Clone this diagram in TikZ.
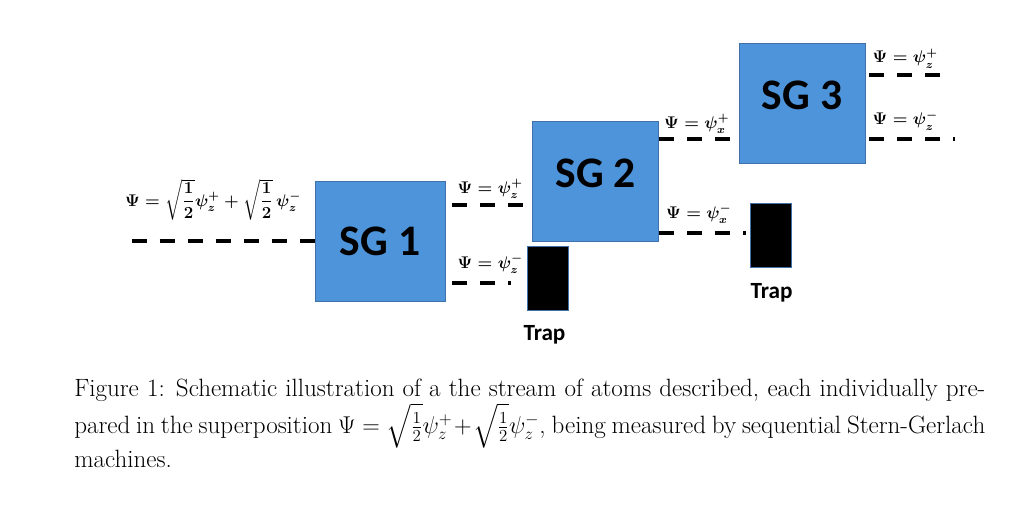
\documentclass[tikz,border=0pt]{standalone}
\usepackage{fontspec}
\usepackage{amsmath}
\newfontfamily\sgfont{Carlito}
\usetikzlibrary{positioning}
\definecolor{sgblue}{RGB}{77,148,219}
\definecolor{sgedge}{RGB}{65,113,170}

\begin{document}
\begin{tikzpicture}[%
    node distance=2cm,                  % Default gap between the magnets
    every node/.style={inner sep=0pt},  % Text sits right on its anchor
    ]
\useasboundingbox (0,0) rectangle (25.6,-12.675);
% -------------------------------------------------
% A few styles
\tikzset{
  magnet/.style={draw=sgedge, fill=sgblue, minimum width=3.15cm, minimum height=3cm,
    font=\sgfont\bfseries\fontsize{31}{36}\selectfont},
  raised/.style={text depth=0.4cm},  % label a bit above the middle
  trap/.style={draw=sgedge, fill=black, minimum width=1.025cm, minimum height=1.6cm},
  traplbl/.style={font=\sgfont\bfseries\fontsize{16.5}{20}\selectfont},
  wave/.style={font=\fontsize{12}{14}\selectfont\boldmath},
  % Atom beams
  beam/.style={line width=3.2pt, dash pattern=on 10.7pt off 9.2pt},
  figcap/.style={text width=22.775cm, align=justify, font=\fontsize{17.8}{24.3}\selectfont}
}
% -------------------------------------------------
% Start by placing the magnets

\node [magnet, minimum width=3.25cm] (s1) at (9.5,-6.025) {SG 1};
\node [magnet, raised, right=2.175cm of s1, yshift=1.5cm] (s2) {SG 2};
\node [magnet, raised, right=2cm of s2, yshift=1.94cm] (s3) {SG 3};

\node [trap, below=0.125cm of s2.south west, anchor=north west, xshift=-0.125cm] (t1) {};
\node [trap, below=0.975cm of s3.south west, anchor=north west, xshift=0.275cm] (t2) {};
\node [traplbl, below=0.35cm of t1, xshift=-0.09cm] (l1) {Trap};
\node [traplbl, below=0.4cm of t2, xshift=0.025cm] (l2) {Trap};

% Where the beams end
\coordinate [left=4.575cm of s1.west] (src);
\coordinate [right=1.95cm of s1.east, yshift=0.9cm] (e1);
\coordinate [right=1.65cm of s1.east, yshift=-1.05cm] (e2);
\coordinate [right=1.8cm of s2.east, yshift=1.05cm] (e3);
\coordinate [right=2.175cm of s2.east, yshift=-1.3cm] (e4);
\coordinate [right=1.875cm of s3.east, yshift=0.71cm] (e5);
\coordinate [right=2.25cm of s3.east, yshift=-0.89cm] (e6);

% States on the beams
\node [wave, anchor=base west, xshift=-0.175cm, yshift=0.875cm] (w0) at (src)
  {$\Psi = \sqrt{\dfrac{1}{2}}\psi_z^+ + \sqrt{\dfrac{1}{2}}\,\psi_z^-$};
\node [wave, right=0.3cm of s1.east, yshift=1.2cm, anchor=base west] (w1) {$\Psi = \psi_z^+$};
\node [wave, right=0.3cm of s1.east, yshift=-0.675cm, anchor=base west] (w2) {$\Psi = \psi_z^-$};
\node [wave, right=0.125cm of s2.east, yshift=1.325cm, anchor=base west] (w3) {$\Psi = \psi_x^+$};
\node [wave, right=0.175cm of s2.east, yshift=-0.925cm, anchor=base west] (w4) {$\Psi = \psi_x^-$};
\node [wave, right=0.175cm of s3.east, yshift=1.0125cm, anchor=base west] (w5) {$\Psi = \psi_z^+$};
\node [wave, right=0.175cm of s3.east, yshift=-0.54cm, anchor=base west] (w6) {$\Psi = \psi_z^-$};

\draw [beam] (src) -- (s1.west);                        %source,SG 1
\draw [beam, shorten <=0.175cm] (s1.east |- e1) -- (e1); %SG 1,SG 2
\draw [beam, shorten <=0.175cm] (s1.east |- e2) -- (e2); %SG 1,trap
\draw [beam] (s2.east |- e3) -- (e3);                    %SG 2,SG 3
\draw [beam] (s2.east |- e4) -- (e4);                    %SG 2,trap
\draw [beam, shorten <=0.1cm] (s3.east |- e5) -- (e5);   %SG 3,up
\draw [beam, shorten <=0.1cm] (s3.east |- e6) -- (e6);   %SG 3,down

% -------------------------------------------------
\node [figcap, anchor=north west] (fig) at (1.85,-9.475) {Figure 1: Schematic
illustration of a the stream of atoms described, each individually
pre-\linebreak pared in the superposition
$\Psi=\sqrt{\frac{1}{2}}\psi_z^+ + \sqrt{\frac{1}{2}}\psi_z^-$, being measured
by sequential Stern-Gerlach\linebreak machines.};
\end{tikzpicture}
\end{document}
